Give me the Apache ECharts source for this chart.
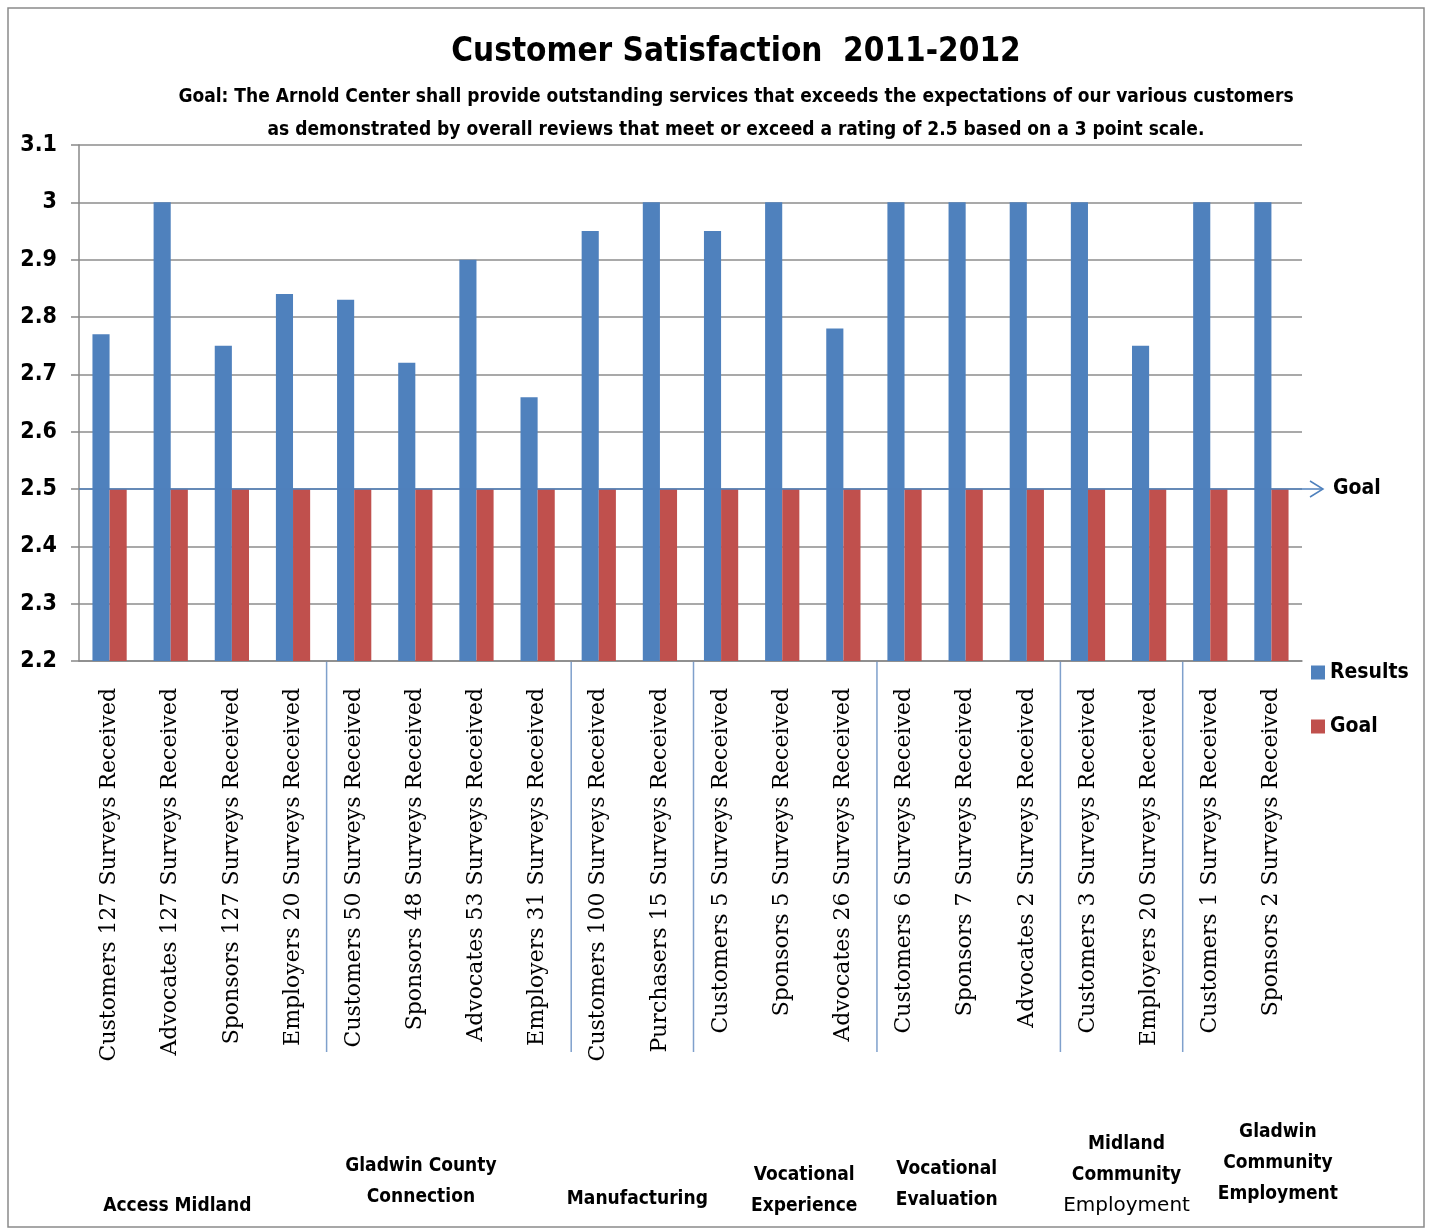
<!DOCTYPE html>
<html>
<head>
<meta charset="utf-8">
<title>Customer Satisfaction 2011-2012</title>
<script src="https://cdn.jsdelivr.net/npm/echarts@6/dist/echarts.min.js"></script>
<style>
  html, body { margin: 0; padding: 0; background: #fff; }
  #chart { width: 1432px; height: 1231px; }
</style>
</head>
<body>
<div id="chart"></div>
<script>
// categories (one per bar pair)
const categories = [
  'Customers 127 Surveys Received',
  'Advocates 127 Surveys Received',
  'Sponsors 127 Surveys Received',
  'Employers 20 Surveys Received',
  'Customers 50 Surveys Received',
  'Sponsors 48 Surveys Received',
  'Advocates 53 Surveys Received',
  'Employers 31 Surveys Received',
  'Customers 100 Surveys Received',
  'Purchasers 15 Surveys Received',
  'Customers 5 Surveys Received',
  'Sponsors 5 Surveys Received',
  'Advocates 26 Surveys Received',
  'Customers 6 Surveys Received',
  'Sponsors 7 Surveys Received',
  'Advocates 2 Surveys Received',
  'Customers 3 Surveys Received',
  'Employers 20 Surveys Received',
  'Customers 1 Surveys Received',
  'Sponsors 2 Surveys Received'
];

const results = [2.77, 3, 2.75, 2.84, 2.83, 2.72, 2.9, 2.66, 2.95, 3, 2.95, 3, 2.78, 3, 3, 3, 3, 2.75, 3, 3];
const goal = [2.5, 2.5, 2.5, 2.5, 2.5, 2.5, 2.5, 2.5, 2.5, 2.5, 2.5, 2.5, 2.5, 2.5, 2.5, 2.5, 2.5, 2.5, 2.5, 2.5];
const goalValue = 2.5;

// program groups: label lines and how many categories each covers
const groupNames = [
  ['Access Midland'],
  ['Gladwin County', 'Connection'],
  ['Manufacturing'],
  ['Vocational', 'Experience'],
  ['Vocational', 'Evaluation'],
  ['Midland', 'Community', 'Employment'],
  ['Gladwin', 'Community', 'Employment']
];
const groupSizes = [4, 4, 2, 3, 3, 2, 2];

const yTicks = { min: 2.2, max: 3.1, interval: 0.1 };

const titleText = 'Customer Satisfaction  2011-2012';
const subtitleLines = [
  'Goal: The Arnold Center shall provide outstanding services that exceeds the expectations of our various customers',
  'as demonstrated by overall reviews that meet or exceed a rating of 2.5 based on a 3 point scale.'
];

const BLUE = '#4F81BD';
const RED = '#C0504D';
const boldFont = '"Liberation Sans Narrow", "DejaVu Sans Condensed", "Liberation Sans", sans-serif';

const chart = echarts.init(document.getElementById('chart'));

chart.setOption({
  animation: false,
  backgroundColor: '#fff',
  legend: {
    orient: 'vertical',
    left: 1306,
    top: 657,
    itemWidth: 14,
    itemHeight: 14,
    itemGap: 33,
    icon: 'rect',
    textStyle: { fontFamily: boldFont, fontWeight: 'bold', fontSize: 21, color: '#000' },
    data: ['Results', 'Goal']
  },
  grid: { left: 79, right: 130, top: 145, bottom: 570, containLabel: false },
  xAxis: {
    type: 'category',
    data: categories,
    axisLine: { lineStyle: { color: '#888', width: 1.5 } },
    axisTick: { show: false },
    axisLabel: {
      interval: 0,
      rotate: 90,
      margin: 27,
      fontFamily: '"DejaVu Serif", "Liberation Serif", serif',
      fontSize: 22,
      color: '#000'
    }
  },
  yAxis: {
    type: 'value',
    min: yTicks.min,
    max: yTicks.max,
    interval: yTicks.interval,
    axisLine: { show: true, lineStyle: { color: '#888', width: 1.5 } },
    axisTick: { show: true, length: 8, lineStyle: { color: '#888', width: 1.5 } },
    splitLine: { lineStyle: { color: '#8c8c8c', width: 1.5 } },
    axisLabel: {
      margin: 22,
      fontFamily: boldFont,
      fontWeight: 'bold',
      fontSize: 23,
      color: '#000',
      formatter: v => String(Math.round(v * 10) / 10)
    }
  },
  series: [
    {
      name: 'Results',
      type: 'bar',
      data: results,
      itemStyle: { color: BLUE },
      barGap: '0%',
      barCategoryGap: '44%'
    },
    {
      name: 'Goal',
      type: 'bar',
      data: goal,
      itemStyle: { color: RED }
    }
  ]
});

// annotations: title, goal arrow, group separators, group labels, outer border
function drawOverlay() {
  const yGoal = chart.convertToPixel({ yAxisIndex: 0 }, goalValue);
  const yBase = chart.convertToPixel({ yAxisIndex: 0 }, yTicks.min);
  const x0 = chart.convertToPixel({ xAxisIndex: 0 }, 0);
  const x1 = chart.convertToPixel({ xAxisIndex: 0 }, 1);
  const band = x1 - x0;
  const left = x0 - band / 2;
  const right = left + band * categories.length;

  const elements = [];

  // outer frame
  elements.push({
    type: 'rect', z: 0, silent: true,
    shape: { x: 8, y: 8, width: 1416, height: 1219 },
    style: { fill: null, stroke: '#8a8a8a', lineWidth: 1.5 }
  });

  // title + goal statement
  elements.push({
    type: 'text', silent: true, x: 736, y: 52,
    style: {
      text: titleText, fill: '#000', font: 'bold 33px ' + boldFont,
      align: 'center', verticalAlign: 'middle'
    }
  });
  subtitleLines.forEach((txt, k) => {
    elements.push({
      type: 'text', silent: true, x: 736, y: 97 + k * 33,
      style: {
        text: txt, fill: '#000', font: 'bold 19px ' + boldFont,
        align: 'center', verticalAlign: 'middle'
      }
    });
  });

  // goal line with arrow
  elements.push({
    type: 'line', z: 100, silent: true,
    shape: { x1: left, y1: yGoal, x2: right + 20, y2: yGoal },
    style: { stroke: BLUE, lineWidth: 1.5 }
  });
  elements.push({
    type: 'polyline', z: 100, silent: true,
    shape: { points: [[right + 8, yGoal - 8], [right + 21, yGoal], [right + 8, yGoal + 8]] },
    style: { stroke: BLUE, lineWidth: 1.5, fill: null }
  });
  elements.push({
    type: 'text', z: 100, silent: true,
    x: right + 31, y: yGoal,
    style: {
      text: 'Goal', fill: '#000', font: 'bold 21px ' + boldFont,
      verticalAlign: 'middle'
    }
  });

  // group separators and labels
  let start = 0;
  groupSizes.forEach((size, i) => {
    const gx0 = left + start * band;
    const gx1 = left + (start + size) * band;
    if (start + size < categories.length) {
      elements.push({
        type: 'line', silent: true,
        shape: { x1: gx1 + 3, y1: yBase, x2: gx1 + 3, y2: 1052 },
        style: { stroke: '#7fa0cc', lineWidth: 1.5 }
      });
    }
    const lines = groupNames[i];
    const lh = 31;
    const bottomY = 1206;
    lines.forEach((txt, k) => {
      const plain = i === 5 && k === 2;
      elements.push({
        type: 'text', silent: true,
        x: (gx0 + gx1) / 2 + (i === 0 ? -24 : i === 1 ? -25 : i === 3 ? 22 : i === 4 ? -19 : i === 6 ? 37 : 8),
        y: bottomY - (lines.length - 1 - k) * lh - (i === 6 ? 12 : i === 1 ? 9 : i === 4 ? 6 : i === 2 ? 7 : 0),
        style: {
          text: txt, fill: '#000',
          font: (plain ? 'normal 20px "DejaVu Sans", sans-serif' : 'bold 19px ' + boldFont),
          align: 'center', verticalAlign: 'middle'
        }
      });
    });
    start += size;
  });

  chart.setOption({ graphic: elements });
}

drawOverlay();
</script>
</body>
</html>
